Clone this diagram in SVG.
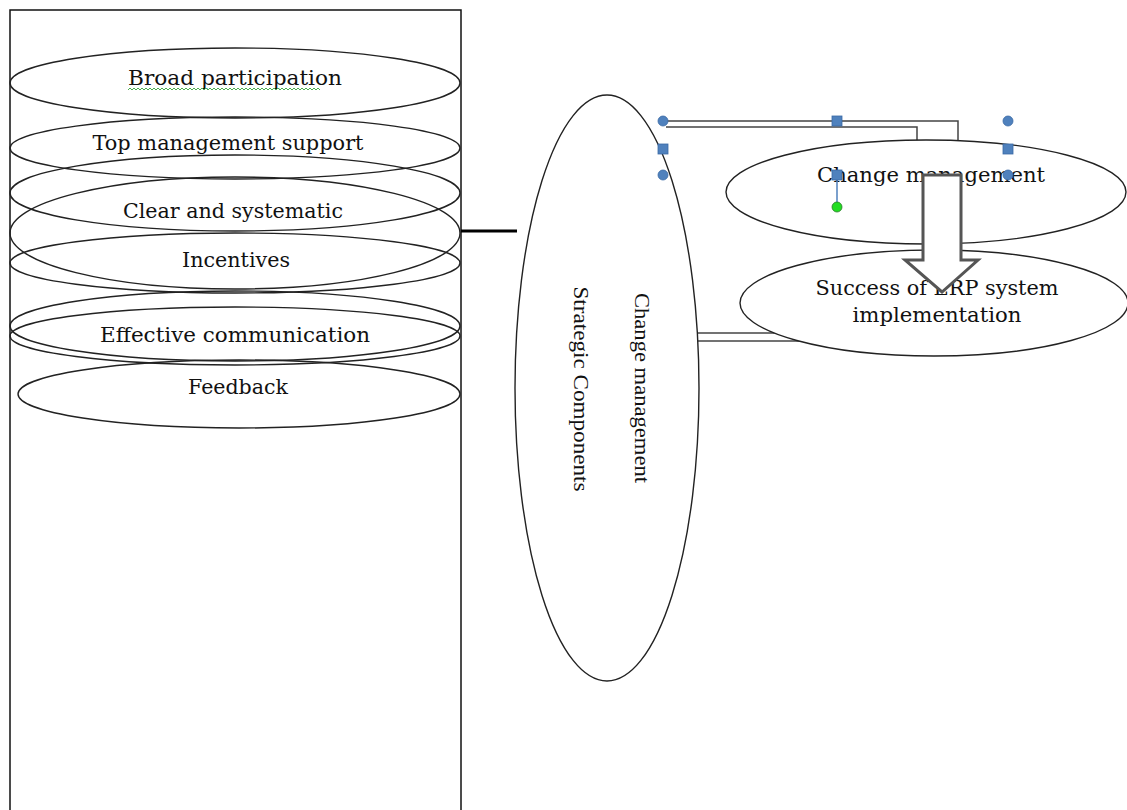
<svg xmlns="http://www.w3.org/2000/svg" width="1127" height="810" viewBox="0 0 1127 810">
<style>
.bg{fill:#ffffff}
.frame{fill:none;stroke:#111;stroke-width:1.5}
.oval{fill:none;stroke:#222;stroke-width:1.4}
.ovalw{fill:#ffffff;stroke:#222;stroke-width:1.4}
.lbl{font-family:"DejaVu Serif","Liberation Serif",serif;font-size:20.5px;fill:#111;text-anchor:middle}
.vlbl{font-family:"Liberation Serif","DejaVu Serif",serif;font-size:20px;fill:#111;text-anchor:middle}
.conn{fill:none;stroke:#444;stroke-width:1.5}
.handle{fill:#4F81BD;stroke:#3a6aa5;stroke-width:0.8}
.arrow{fill:#ffffff;stroke:#555;stroke-width:3;stroke-linejoin:miter}
</style>
<rect class="bg" x="0" y="0" width="1127" height="810"/>

<g id="components-frame">
<rect class="frame" x="10" y="10" width="451" height="810"/>
</g>

<g id="broad-participation">
<ellipse class="oval" cx="235" cy="83" rx="225" ry="35"/>
<text class="lbl" x="235" y="85" textLength="214" lengthAdjust="spacingAndGlyphs">Broad participation</text>
<path d="M128 90 l2 -2 2 2 2 -2 2 2 2 -2 2 2 2 -2 2 2 2 -2 2 2 2 -2 2 2 2 -2 2 2 2 -2 2 2 2 -2 2 2 2 -2 2 2 2 -2 2 2 2 -2 2 2 2 -2 2 2 2 -2 2 2 2 -2 2 2 2 -2 2 2 2 -2 2 2 2 -2 2 2 2 -2 2 2 2 -2 2 2 2 -2 2 2 2 -2 2 2 2 -2 2 2 2 -2 2 2 2 -2 2 2 2 -2 2 2 2 -2 2 2 2 -2 2 2 2 -2 2 2 2 -2 2 2 2 -2 2 2 2 -2 2 2 2 -2 2 2 2 -2 2 2 2 -2 2 2 2 -2 2 2 2 -2 2 2 2 -2 2 2 2 -2 2 2 2 -2 2 2 2 -2 2 2 2 -2 2 2 2 -2 2 2 2 -2 2 2 2 -2 2 2 2 -2 2 2 2 -2 2 2 2 -2 2 2" fill="none" stroke="#4caf50" stroke-width="1"/>
</g>

<g id="top-management-support">
<ellipse class="oval" cx="235" cy="148" rx="225" ry="31"/>
<text class="lbl" x="228" y="150" textLength="271" lengthAdjust="spacingAndGlyphs">Top management support</text>
</g>

<g id="blank-oval-1">
<ellipse class="oval" cx="235" cy="193" rx="225" ry="38"/>
</g>

<g id="clear-and-systematic">
<ellipse class="oval" cx="235" cy="233" rx="225" ry="56"/>
<text class="lbl" x="233" y="218" textLength="220" lengthAdjust="spacingAndGlyphs">Clear and systematic</text>
</g>

<g id="incentives">
<ellipse class="oval" cx="235" cy="263" rx="225" ry="30"/>
<text class="lbl" x="236" y="267" textLength="108" lengthAdjust="spacingAndGlyphs">Incentives</text>
</g>

<g id="blank-oval-2">
<ellipse class="oval" cx="235" cy="326" rx="225" ry="35"/>
</g>

<g id="effective-communication">
<ellipse class="oval" cx="235" cy="336" rx="225" ry="29"/>
<text class="lbl" x="235" y="342" textLength="270" lengthAdjust="spacingAndGlyphs">Effective communication</text>
</g>

<g id="feedback">
<ellipse class="oval" cx="239" cy="394" rx="221" ry="34"/>
<text class="lbl" x="238" y="394" textLength="100" lengthAdjust="spacingAndGlyphs">Feedback</text>
</g>

<g id="connectors">
<line x1="461" y1="231" x2="517" y2="231" stroke="#000" stroke-width="3"/>
<polyline class="conn" points="663,121 958,121 958,150"/>
<polyline class="conn" points="666,127 917,127 917,150"/>
<line class="conn" x1="698" y1="333" x2="800" y2="333"/>
<line class="conn" x1="698" y1="341" x2="820" y2="341"/>
</g>

<g id="strategic-components">
<ellipse class="ovalw" cx="607" cy="388" rx="92" ry="293"/>
<text class="vlbl" transform="translate(635,388) rotate(90)" textLength="190" lengthAdjust="spacingAndGlyphs">Change management</text>
<text class="vlbl" transform="translate(574,389) rotate(90)" textLength="205" lengthAdjust="spacingAndGlyphs">Strategic Components</text>
</g>

<g id="change-management">
<ellipse class="ovalw" cx="926" cy="192" rx="200" ry="52"/>
<text class="lbl" x="931" y="182" textLength="228" lengthAdjust="spacingAndGlyphs">Change management</text>
</g>

<g id="erp-success">
<ellipse class="ovalw" cx="934" cy="303" rx="194" ry="53"/>
<text class="lbl" x="937" y="295" textLength="243" lengthAdjust="spacingAndGlyphs">Success of ERP system</text>
<text class="lbl" x="937" y="322" textLength="169" lengthAdjust="spacingAndGlyphs">implementation</text>
</g>

<g id="block-arrow">
<path class="arrow" d="M923,175 L961,175 L961,260 L978,260 L942,292 L905,260 L923,260 Z"/>
</g>

<g id="selection-handles">
<line x1="837" y1="175" x2="837" y2="207" stroke="#4F81BD" stroke-width="1.5"/>
<circle class="handle" cx="663" cy="121" r="5"/>
<rect class="handle" x="832" y="116" width="10" height="10"/>
<circle class="handle" cx="1008" cy="121" r="5"/>
<rect class="handle" x="658" y="144" width="10" height="10"/>
<rect class="handle" x="1003" y="144" width="10" height="10"/>
<circle class="handle" cx="663" cy="175" r="5"/>
<rect class="handle" x="832" y="170" width="10" height="10"/>
<circle class="handle" cx="1008" cy="175" r="5"/>
<circle cx="837" cy="207" r="5" fill="#22dd22" stroke="#2a7a2a" stroke-width="0.8"/>
</g>
</svg>
